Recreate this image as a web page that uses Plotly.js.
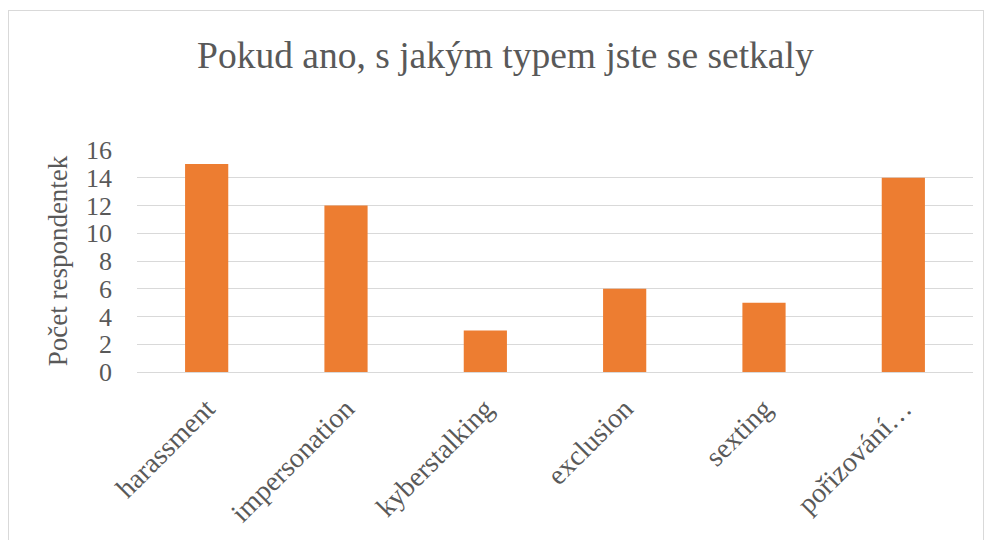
<!DOCTYPE html>
<html>
<head>
<meta charset="utf-8">
<script src="https://cdn.plot.ly/plotly-3.0.1.min.js"></script>
<style>
  html, body { margin: 0; padding: 0; background: #fff; }
  #chart { width: 989px; height: 540px; }
  #frame { position: absolute; left: 8px; top: 10px; width: 976px; height: 560px;
           border: 1px solid #D9D9D9; pointer-events: none; box-sizing: border-box; }
</style>
</head>
<body>
<div id="chart"></div>
<div id="frame"></div>
<script>
const categories = ["harassment", "impersonation", "kyberstalking", "exclusion", "sexting", "pořizování…"];
const counts = [15, 12, 3, 6, 5, 14];
const yTicks = [0, 2, 4, 6, 8, 10, 12, 14, 16];

const font = "'Liberation Serif', 'Times New Roman', serif";
const gray = "#595959";

Plotly.newPlot("chart", [{
  type: "bar",
  x: categories,
  y: counts,
  marker: { color: "#ED7D31" },
  hoverinfo: "x+y"
}], {
  width: 989, height: 540,
  margin: { l: 137, r: 16, t: 150, b: 168 },
  paper_bgcolor: "#fff", plot_bgcolor: "#fff",
  bargap: 0.69,
  showlegend: false,
  title: {
    text: "Pokud ano, s jakým typem jste se setkaly",
    font: { family: font, size: 37.5, color: gray },
    x: 0.511, xanchor: "center", y: 1 - 55 / 540, yanchor: "middle", yref: "container"
  },
  xaxis: {
    tickangle: -45,
    tickfont: { family: font, size: 28, color: gray },
    showline: true, linecolor: "#D9D9D9", linewidth: 1,
    ticks: "", ticklabelstandoff: 8,
    automargin: false
  },
  yaxis: {
    range: [0, 16],
    tickvals: yTicks,
    ticktext: yTicks.map(String),
    tickfont: { family: font, size: 26, color: gray },
    showgrid: true, gridcolor: "#D9D9D9", gridwidth: 1,
    zeroline: false, showline: false, ticks: "",
    ticklabelstandoff: 24,
    automargin: false,
    title: { text: "Počet respondentek", font: { family: font, size: 27, color: gray }, standoff: 10 }
  }
}, { displayModeBar: false, staticPlot: true });
</script>
</body>
</html>
